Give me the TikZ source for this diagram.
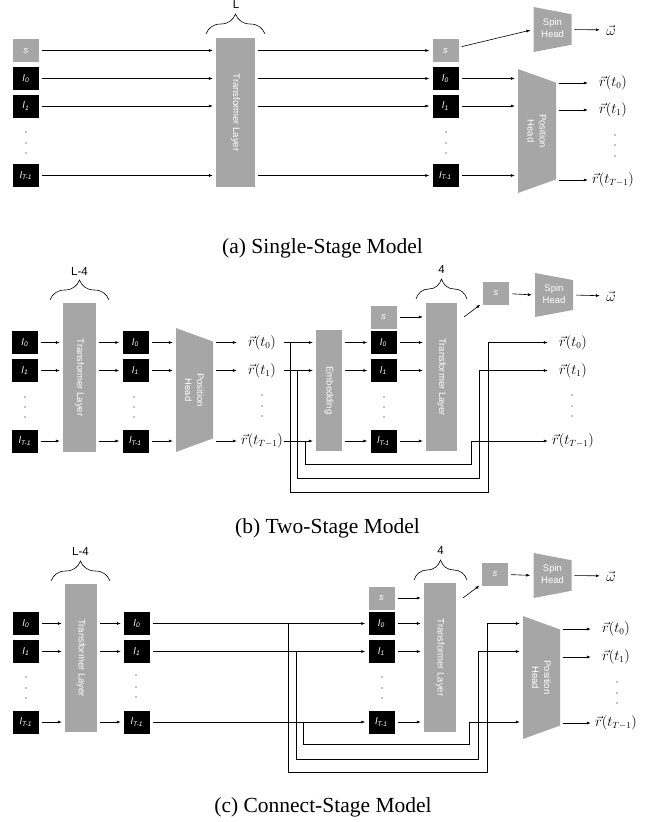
\documentclass[tikz,border=0pt]{standalone}
\usepackage{fontspec}
\setmainfont{Liberation Serif}
\newfontfamily\labfont{Liberation Sans}
\usepackage{tikz}
\usetikzlibrary{arrows.meta,positioning,shapes.geometric,decorations.pathreplacing}
\definecolor{blockgray}{RGB}{166,166,166}
\newcommand{\tokl}[1]{\textit{l}\textsubscript{\textit{#1}}}
\newcommand{\twolines}[2]{\begin{tabular}{@{}c@{}}#1\\#2\end{tabular}}

\begin{document}
\begin{tikzpicture}[x=1pt, y=-1pt,
    >={Latex[length=4pt,width=3pt]},
    arr/.style={->, line width=0.6pt, shorten <=3pt, shorten >=3pt},
    bus/.style={->, line width=0.6pt, shorten >=3pt},
    tok/.style={fill=black, text=white, minimum width=26pt, minimum height=23pt,
                inner sep=0pt, font=\labfont\fontsize{9.5}{10}\selectfont},
    stok/.style={tok, fill=blockgray},
    tfblock/.style={fill=blockgray, text=white, inner sep=0pt,
                    font=\labfont\fontsize{9.5}{11}\selectfont},
    headshape/.style={trapezium, trapezium angle=76, trapezium stretches=true,
                      fill=blockgray, text=white, rotate=-90, minimum height=38pt,
                      inner sep=0pt, align=center, font=\labfont\fontsize{9.5}{12}\selectfont},
    sym/.style={font=\fontsize{13.5}{15}\selectfont},
    outlab/.style={sym, minimum width=44pt, inner sep=0pt},
    cnt/.style={inner sep=0pt, font=\labfont\fontsize{11.5}{12}\selectfont},
    captext/.style={font=\fontsize{21.5}{24}\selectfont},
    brc/.style={decorate, decoration={brace, amplitude=20pt}, line width=0.6pt}
]
    \useasboundingbox (0,0) rectangle (651,822);

    % (a) single stage
    \node[stok] (sa) at (26,50.5) {\textit{s}};
    \node[tok] (la0) at (26,78.5) {\tokl{0}};
    \node[tok] (la1) at (26,106) {\tokl{1}};
    \node[tok] (laT) at (26,175.5) {\tokl{T-1}};
    \node[tfblock, minimum width=39pt, minimum height=149pt] (tla) at (235.5,112.5) {\rotatebox{-90}{Transformer Layer}};
    \node[stok] (sb) at (445.5,50.5) {\textit{s}};
    \node[tok] (lb0) at (445.5,78.5) {\tokl{0}};
    \node[tok] (lb1) at (445.5,106) {\tokl{1}};
    \node[tok] (lbT) at (445.5,175.5) {\tokl{T-1}};
    \node[headshape, minimum width=45pt] (spina) at (552.5,29.5) {\rotatebox{90}{\twolines{Spin}{Head}}};
    \node[sym] (oma) at (611,30) {$\vec{\omega}$};
    \node[headshape, minimum width=124pt] (posa) at (537,131) {Position\\Head};
    \node[outlab] (ra0) at (613,83) {$\vec{r}(t_0)$};
    \node[outlab] (ra1) at (613,110) {$\vec{r}(t_1)$};
    \node[outlab] (raT) at (613,180) {$\vec{r}(t_{T-1})$};
    \node[cnt] (La) at (236,4.5) {L};
    \node[captext, anchor=base] (capa) at (322.5,253.5) {(a) Single-Stage Model};

    \draw[brc] (206,34) -- (265,34);
    \draw[arr] (sa) -- (sa -| tla.west);
    \draw[arr] (la0) -- (la0 -| tla.west);
    \draw[arr] (la1) -- (la1 -| tla.west);
    \draw[arr] (laT) -- (laT -| tla.west);
    \draw[arr] (tla.east |- sb) -- (sb);
    \draw[arr] (tla.east |- lb0) -- (lb0);
    \draw[arr] (tla.east |- lb1) -- (lb1);
    \draw[arr] (tla.east |- lbT) -- (lbT);
    \draw[arr] (sb) -- (spina.bottom side);
    \draw[arr] (spina.top side) -- (oma);
    \draw[arr] (lb0) -- (lb0 -| posa.bottom side);
    \draw[arr] (lb1) -- (lb1 -| posa.bottom side);
    \draw[arr] (lbT) -- (lbT -| posa.bottom side);
    \draw[arr] (posa.top side |- ra0) -- (ra0);
    \draw[arr] (posa.top side |- ra1) -- (ra1);
    \draw[arr] (posa.top side |- raT) -- (raT);
    \foreach \y in {132,143,153} {
        \fill (26,\y) circle (0.6);
        \fill (446,\y) circle (0.6);
    }
    \foreach \y in {135,145,156} \fill (615,\y) circle (0.6);

    % (b) two stage
    \node[tok] (lc0) at (25,342.5) {\tokl{0}};
    \node[tok] (lc1) at (25,370.5) {\tokl{1}};
    \node[tok] (lcT) at (25,441) {\tokl{T-1}};
    \node[tfblock, minimum width=33pt, minimum height=149pt] (tlb) at (79.5,377.5) {\rotatebox{-90}{Transformer Layer}};
    \node[tok] (ld0) at (135.5,342.5) {\tokl{0}};
    \node[tok] (ld1) at (135.5,370.5) {\tokl{1}};
    \node[tok] (ldT) at (135.5,441) {\tokl{T-1}};
    \node[headshape, minimum width=124pt, minimum height=37pt] (posb) at (194.5,390) {Position\\Head};
    \node[outlab] (rb0) at (262,342.5) {$\vec{r}(t_0)$};
    \node[outlab] (rb1) at (262,370.5) {$\vec{r}(t_1)$};
    \node[outlab] (rbT) at (262,441) {$\vec{r}(t_{T-1})$};
    \node[tfblock, minimum width=26pt, minimum height=121pt] (embb) at (329,390.5) {\rotatebox{-90}{Embedding}};
    \node[stok] (se) at (383.5,317) {\textit{s}};
    \node[tok] (le0) at (383.5,342.5) {\tokl{0}};
    \node[tok] (le1) at (383.5,370.5) {\tokl{1}};
    \node[tok] (leT) at (383.5,441) {\tokl{T-1}};
    \node[tfblock, minimum width=31pt, minimum height=148pt] (tlc) at (441.5,377) {\rotatebox{-90}{Transformer Layer}};
    \node[stok] (sf) at (496,293) {\textit{s}};
    \node[headshape, minimum width=44pt] (spinb) at (554,295) {\rotatebox{90}{\twolines{Spin}{Head}}};
    \node[sym] (omb) at (611,296) {$\vec{\omega}$};
    \node[outlab] (rf0) at (573,342.5) {$\vec{r}(t_0)$};
    \node[outlab] (rf1) at (573,370.5) {$\vec{r}(t_1)$};
    \node[outlab] (rfT) at (573,441) {$\vec{r}(t_{T-1})$};
    \node[cnt] (Lb) at (79.5,272) {L-4};
    \node[cnt] (Fb) at (441.5,270) {4};
    \node[captext, anchor=base] (capb) at (327.5,533) {(b) Two-Stage Model};
    \coordinate (jb0) at (290,342.5);
    \coordinate (jb1) at (297,370.5);
    \coordinate (jbT) at (305,441);
    \coordinate (kb0) at (488,492);
    \coordinate (kb1) at (479,478);
    \coordinate (kbT) at (471,464);

    \draw[brc] (50,300) -- (109,300);
    \draw[brc] (416,299) -- (467,299);
    \draw[arr] (lc0) -- (lc0 -| tlb.west);
    \draw[arr] (lc1) -- (lc1 -| tlb.west);
    \draw[arr] (lcT) -- (lcT -| tlb.west);
    \draw[arr] (tlb.east |- ld0) -- (ld0);
    \draw[arr] (tlb.east |- ld1) -- (ld1);
    \draw[arr] (tlb.east |- ldT) -- (ldT);
    \draw[arr] (ld0) -- (ld0 -| posb.bottom side);
    \draw[arr] (ld1) -- (ld1 -| posb.bottom side);
    \draw[arr] (ldT) -- (ldT -| posb.bottom side);
    \draw[arr] (posb.top side |- rb0) -- (rb0);
    \draw[arr] (posb.top side |- rb1) -- (rb1);
    \draw[arr] (posb.top side |- rbT) -- (rbT);
    \draw[bus] (rb0) -- (rb0 -| embb.west);
    \draw[bus] (rb1) -- (rb1 -| embb.west);
    \draw[bus] (rbT) -- (rbT -| embb.west);
    \draw[arr] (embb.east |- le0) -- (le0);
    \draw[arr] (embb.east |- le1) -- (le1);
    \draw[arr] (embb.east |- leT) -- (leT);
    \draw[arr] (se) -- (se -| tlc.west);
    \draw[arr] (le0) -- (le0 -| tlc.west);
    \draw[arr] (le1) -- (le1 -| tlc.west);
    \draw[arr] (leT) -- (leT -| tlc.west);
    \draw[arr, shorten <=0pt] ([shift={(7,14)}]tlc.north east) -- (sf);
    \draw[arr] (sf) -- (spinb.bottom side);
    \draw[arr] (spinb.top side) -- (omb);
    \draw[bus] (jb0) |- (kb0) |- (rf0);
    \draw[bus] (jb1) |- (kb1) |- (rf1);
    \draw[bus] (jbT) |- (kbT) |- (rfT);
    \foreach \y in {397,407,417} {
        \fill (25,\y) circle (0.6);
        \fill (134,\y) circle (0.6);
        \fill (384,\y) circle (0.6);
    }
    \foreach \y in {395,406,416} {
        \fill (262,\y) circle (0.6);
        \fill (572,\y) circle (0.6);
    }

    % (c) connect stage
    \node[tok] (lg0) at (26,623.5) {\tokl{0}};
    \node[tok] (lg1) at (26,651.5) {\tokl{1}};
    \node[tok] (lgT) at (26,722) {\tokl{T-1}};
    \node[tfblock, minimum width=32pt, minimum height=148pt] (tld) at (81,658) {\rotatebox{-90}{Transformer Layer}};
    \node[tok] (lh0) at (137,623.5) {\tokl{0}};
    \node[tok] (lh1) at (137,651.5) {\tokl{1}};
    \node[tok] (lhT) at (137,722) {\tokl{T-1}};
    \node[stok] (si) at (381.5,598) {\textit{s}};
    \node[tok] (li0) at (381.5,623.5) {\tokl{0}};
    \node[tok] (li1) at (381.5,651.5) {\tokl{1}};
    \node[tok] (liT) at (381.5,722) {\tokl{T-1}};
    \node[tfblock, minimum width=32pt, minimum height=149pt] (tle) at (440,657.5) {\rotatebox{-90}{Transformer Layer}};
    \node[stok] (sj) at (495,574) {\textit{s}};
    \node[headshape, minimum width=45pt] (spinc) at (552.5,575.5) {\rotatebox{90}{\twolines{Spin}{Head}}};
    \node[sym] (omc) at (611,576) {$\vec{\omega}$};
    \node[headshape, minimum width=123pt, minimum height=37pt] (posc) at (541.5,677.5) {Position\\Head};
    \node[outlab] (rj0) at (616,629) {$\vec{r}(t_0)$};
    \node[outlab] (rj1) at (616,657) {$\vec{r}(t_1)$};
    \node[outlab] (rjT) at (616,723) {$\vec{r}(t_{T-1})$};
    \node[cnt] (Lc) at (80.5,552) {L-4};
    \node[cnt] (Fc) at (440.5,551) {4};
    \node[captext, anchor=base] (capc) at (323,812.5) {(c) Connect-Stage Model};
    \coordinate (jc0) at (288,623.5);
    \coordinate (jc1) at (296,651.5);
    \coordinate (jcT) at (303,722);
    \coordinate (kc0) at (487,772);
    \coordinate (kc1) at (478,759);
    \coordinate (kcT) at (469,744);

    \draw[brc] (51,581) -- (110,581);
    \draw[brc] (414,580) -- (467,580);
    \draw[arr] (lg0) -- (lg0 -| tld.west);
    \draw[arr] (lg1) -- (lg1 -| tld.west);
    \draw[arr] (lgT) -- (lgT -| tld.west);
    \draw[arr] (tld.east |- lh0) -- (lh0);
    \draw[arr] (tld.east |- lh1) -- (lh1);
    \draw[arr] (tld.east |- lhT) -- (lhT);
    \draw[arr] (lh0) -- (li0);
    \draw[arr] (lh1) -- (li1);
    \draw[arr] (lhT) -- (liT);
    \draw[arr] (si) -- (si -| tle.west);
    \draw[arr] (li0) -- (li0 -| tle.west);
    \draw[arr] (li1) -- (li1 -| tle.west);
    \draw[arr] (liT) -- (liT -| tle.west);
    \draw[arr, shorten <=0pt] ([shift={(7,15)}]tle.north east) -- (sj);
    \draw[arr] (sj) -- (spinc.bottom side);
    \draw[arr] (spinc.top side) -- (omc);
    \draw[bus] (jc0) |- (kc0) |- (posc.bottom side |- li0);
    \draw[bus] (jc1) |- (kc1) |- (posc.bottom side |- li1);
    \draw[bus] (jcT) |- (kcT) |- (posc.bottom side |- liT);
    \draw[arr] (posc.top side |- rj0) -- (rj0);
    \draw[arr] (posc.top side |- rj1) -- (rj1);
    \draw[arr] (posc.top side |- rjT) -- (rjT);
    \foreach \y in {677,688,698} {
        \fill (26,\y) circle (0.6);
        \fill (382,\y) circle (0.6);
    }
    \foreach \y in {675,687,697} \fill (136,\y) circle (0.6);
    \foreach \y in {682,693,703} \fill (617,\y) circle (0.6);
\end{tikzpicture}
\end{document}
